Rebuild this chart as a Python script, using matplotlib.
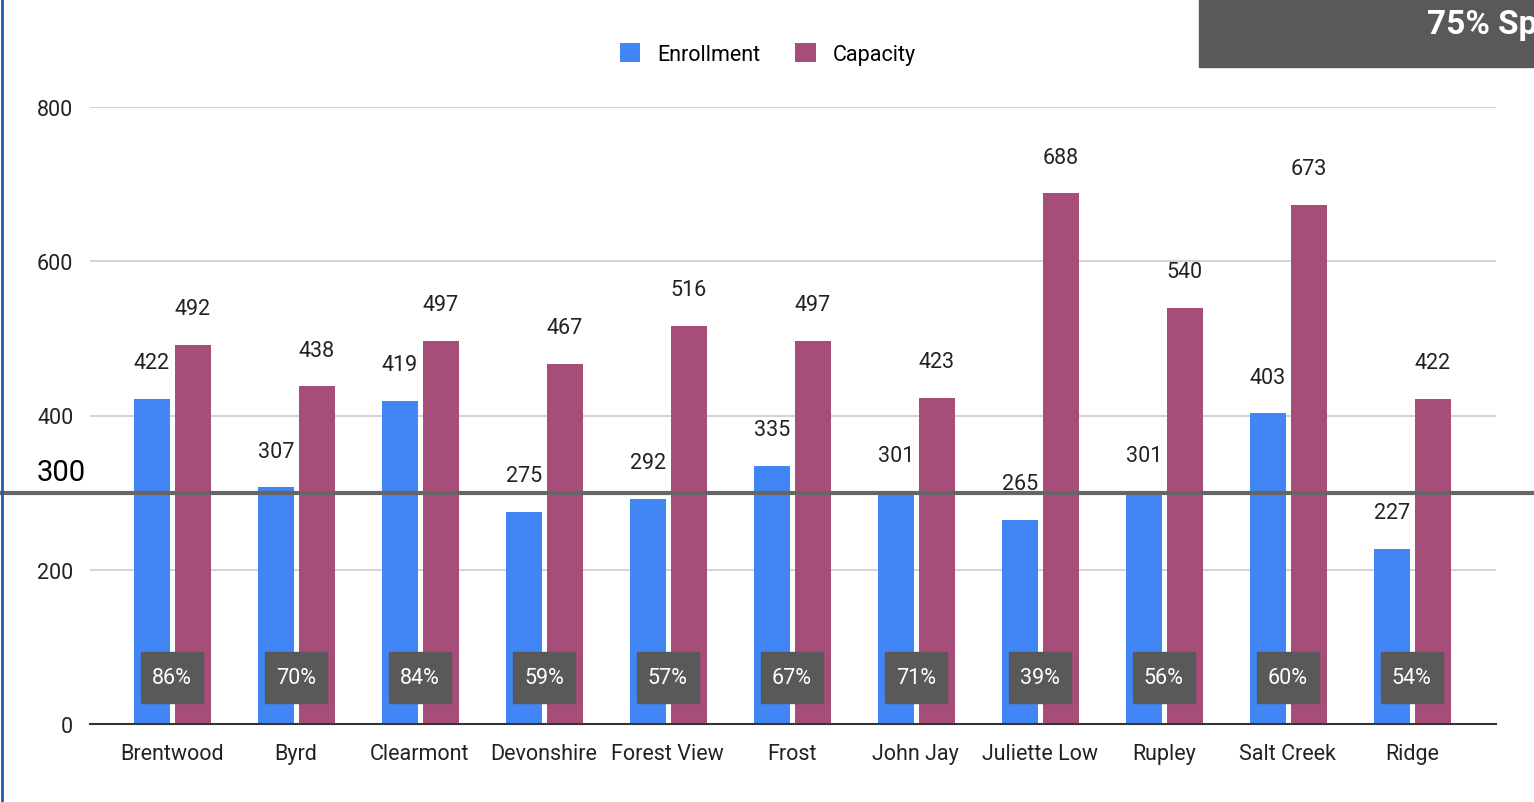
import matplotlib.pyplot as plt
import matplotlib.transforms as mtransforms
from matplotlib.patches import Rectangle
from matplotlib.lines import Line2D
import numpy as np

plt.rcParams['font.family'] = ['Roboto', 'DejaVu Sans']

schools = ["Brentwood", "Byrd", "Clearmont", "Devonshire", "Forest View", "Frost",
           "John Jay", "Juliette Low", "Rupley", "Salt Creek", "Ridge"]
enrollment = [422, 307, 419, 275, 292, 335, 301, 265, 301, 403, 227]
capacity = [492, 438, 497, 467, 516, 497, 423, 688, 540, 673, 422]
percent_labels = ["86%", "70%", "84%", "59%", "57%", "67%", "71%", "39%", "56%", "60%", "54%"]
threshold = 300

blue = "#4285F4"
purple = "#A64D79"
dark = "#595959"

fig = plt.figure(figsize=(15.34, 8.03), dpi=100)
ax = fig.add_axes([90 / 1534, 1 - 725 / 803, (1496 - 90) / 1534, (725 - 108) / 803])

x = np.arange(len(schools))
w = 0.29
off = 0.165
b1 = ax.bar(x - off + 0.005, enrollment, w, color=blue, label="Enrollment", zorder=2)
b2 = ax.bar(x + off + 0.005, capacity, w, color=purple, label="Capacity", zorder=2)

# value labels above bars
for bars, vals in ((b1, enrollment), (b2, capacity)):
    for rect, v in zip(bars, vals):
        ax.annotate(str(v), (rect.get_x() + rect.get_width() / 2, v),
                    xytext=(0, 26), textcoords="offset points",
                    ha="center", va="center", fontsize=15.5, color="#222222")

# percentage boxes
for xi, p in zip(x, percent_labels):
    ax.add_patch(Rectangle((xi - 0.25, 27), 0.5, 66, color=dark, zorder=3))
    ax.text(xi, 60, p, ha="center", va="center", fontsize=15.5, color="white", zorder=4)

ax.set_xlim(-0.66, 10.68)
ax.set_ylim(0, 800)
ax.set_yticks([0, 200, 400, 600, 800])
ax.set_xticks(x)
ax.set_xticklabels(schools)
ax.tick_params(axis="both", length=0, labelsize=15.5, colors="#222222")
ax.tick_params(axis="x", pad=14)
ax.tick_params(axis="y", pad=12)
ax.grid(axis="y", color="#cccccc", linewidth=1.2, zorder=0)
for s in ["top", "right", "left"]:
    ax.spines[s].set_visible(False)
ax.spines["bottom"].set_color("#333333")
ax.spines["bottom"].set_linewidth(1.5)
ax.spines["bottom"].set_zorder(5)

# threshold line across the whole figure
trans = mtransforms.blended_transform_factory(fig.transFigure, ax.transData)
ax.add_line(Line2D([0, 1], [threshold, threshold], transform=trans, color="#666666",
                   linewidth=3, clip_on=False, zorder=6))
ax.text(61 / 1534, threshold + 8, str(threshold), transform=trans, ha="center",
        va="bottom", fontsize=21, color="black")

ax.legend(loc="center", bbox_to_anchor=(768 / 1534, 1 - 55 / 803),
          bbox_transform=fig.transFigure, ncol=2, frameon=False,
          fontsize=15.5, handlelength=0.95, handleheight=0.95, columnspacing=1.6,
          handletextpad=0.8)

# dark header box, top right
fig.patches.append(Rectangle((1199 / 1534, 1 - 68 / 803), 1, 68 / 803,
                             transform=fig.transFigure, color=dark, zorder=10))
fig.text(1427 / 1534, 1 - 25 / 803, "75% Sp", fontsize=24, fontweight="bold",
         color="white", ha="left", va="center", zorder=11)

# left border line
fig.add_artist(Line2D([0.001, 0.001], [0, 1], transform=fig.transFigure,
                      color="#1a5ea8", linewidth=2))

fig.savefig("out.png", dpi=100)
